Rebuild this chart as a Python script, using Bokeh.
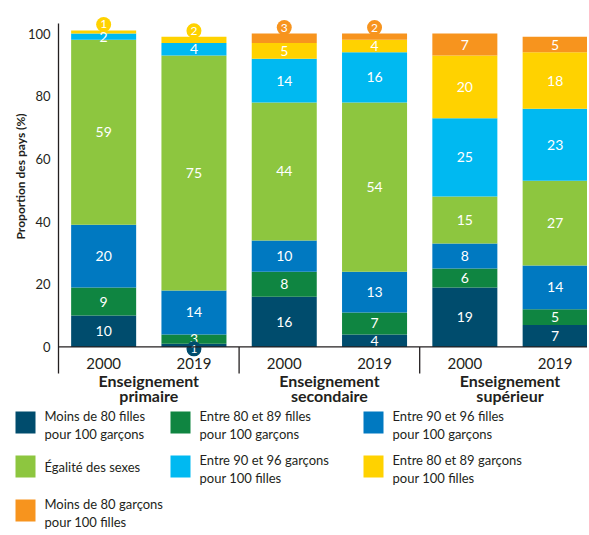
import math
from bokeh.plotting import figure
from bokeh.layouts import column
from bokeh.models import Range1d
from bokeh.core.properties import value
from bokeh.embed import file_html
from bokeh.resources import INLINE

# ---- data ----
groups = ["Enseignement\nprimaire", "Enseignement\nsecondaire", "Enseignement\nsupérieur"]
years = ["2000", "2019"]
y_ticks = [0, 20, 40, 60, 80, 100]
y_title = "Proportion des pays (%)"
series_names = [
    "Moins de 80 filles\npour 100 garçons",
    "Entre 80 et 89 filles\npour 100 garçons",
    "Entre 90 et 96 filles\npour 100 garçons",
    "Égalité des sexes",
    "Entre 90 et 96 garçons\npour 100 filles",
    "Entre 80 et 89 garçons\npour 100 filles",
    "Moins de 80 garçons\npour 100 filles",
]
colors = ["#004c6d", "#0f8541", "#0079c1", "#8dc63f", "#00b9f1", "#ffd200", "#f7941e"]
moins80_filles = [10, 1, 16, 4, 19, 7]
f80_89 = [9, 3, 8, 7, 6, 5]
f90_96 = [20, 14, 10, 13, 8, 14]
egalite = [59, 75, 44, 54, 15, 27]
g90_96 = [2, 4, 14, 16, 25, 23]
g80_89 = [1, 2, 5, 4, 20, 18]
moins80_garcons = [0, 0, 3, 2, 7, 5]
series = [moins80_filles, f80_89, f90_96, egalite, g90_96, g80_89, moins80_garcons]
# values shown in a small circle instead of inside the bar: (bar index, series index)
callouts = [(0, 5), (1, 5), (1, 0), (2, 6), (3, 6)]

FONT = "Lato"
TXT = "#231f20"

nbars = len(groups) * len(years)
xs = [i + 0.5 for i in range(nbars)]
year_labels = [years[i % len(years)] for i in range(nbars)]

W = 587
PXU = 90.3          # pixels per bar slot
LEFT_PX = 58        # room for the y-axis texts
X0 = -LEFT_PX / PXU
X1 = (W - LEFT_PX) / PXU

p = figure(width=W, height=406,
           x_range=Range1d(X0, X1), y_range=Range1d(-19.0, 108.0),
           output_backend="svg", toolbar_location=None,
           x_axis_location=None, y_axis_location=None,
           min_border_left=0, min_border_right=0, min_border_top=8, min_border_bottom=0)
p.outline_line_color = None
p.xgrid.visible = False
p.ygrid.visible = False

# stacked bars
bottoms = [0] * nbars
seg_x, seg_y, seg_t = [], [], []
call_x, call_y, call_t, call_c = [], [], [], []
for si, vals in enumerate(series):
    tops = [b + v for b, v in zip(bottoms, vals)]
    p.vbar(x=xs, bottom=bottoms, top=tops, width=0.72,
           fill_color=colors[si], line_color=None)
    for bi in range(nbars):
        if vals[bi] == 0 or (bi, si) in callouts:
            continue
        seg_x.append(xs[bi])
        seg_y.append((bottoms[bi] + tops[bi]) / 2)
        seg_t.append(str(vals[bi]))
    bottoms = tops
tops_all = bottoms

for bi, si in callouts:
    call_x.append(xs[bi])
    call_y.append(-0.6 if si == 0 else tops_all[bi] + 1.9)
    call_t.append(str(series[si][bi]))
    call_c.append(colors[si])

p.text(x=seg_x, y=seg_y, text=seg_t, text_align="center", text_baseline="middle",
       text_color="white", text_font=value(FONT), text_font_size="14px")

p.scatter(x=call_x, y=call_y, marker="circle", size=15, fill_color=call_c, line_color=None)
p.text(x=call_x, y=call_y, text=call_t, text_align="center", text_baseline="middle",
       text_color="white", text_font=value(FONT), text_font_size="12px")

# y axis: line, tick labels, title
p.segment(x0=[0], y0=[-8.5], x1=[0], y1=[103.2], line_color=TXT, line_width=1.3)
p.text(x=[-8 / PXU] * len(y_ticks), y=y_ticks, text=[str(t) for t in y_ticks],
       text_align="right", text_baseline="middle", text_color=TXT,
       text_font=value(FONT), text_font_size="13px")
p.text(x=[-38 / PXU], y=[54.4], text=[y_title], angle=math.pi / 2,
       text_align="center", text_baseline="middle", text_color=TXT,
       text_font=value(FONT), text_font_size="12px", text_font_style="bold")

# baseline and group separators
p.segment(x0=[0], y0=[0], x1=[X1], y1=[0], line_color=TXT, line_width=1.3)
sep_x = [len(years) * g for g in range(1, len(groups))]
p.segment(x0=sep_x, y0=[0] * len(sep_x), x1=sep_x, y1=[-8.5] * len(sep_x),
          line_color=TXT, line_width=1.3)

# year labels
p.text(x=xs, y=[-5.2] * nbars, text=year_labels, text_align="center", text_baseline="middle",
       text_color=TXT, text_font=value(FONT), text_font_size="15px")

# group labels (two lines)
gx = [len(years) * g + len(years) / 2 for g in range(len(groups))]
line1 = [g.split("\n")[0] for g in groups]
line2 = [g.split("\n")[1] for g in groups]
p.text(x=gx, y=[-10.7] * len(gx), text=line1, text_align="center", text_baseline="middle",
       text_color=TXT, text_font=value(FONT), text_font_size="16px", text_font_style="bold")
p.text(x=gx, y=[-15.5] * len(gx), text=line2, text_align="center", text_baseline="middle",
       text_color=TXT, text_font=value(FONT), text_font_size="16px", text_font_style="bold")

# ---- legend strip (pixel coordinates, y downwards) ----
LH = 125
pl = figure(width=W, height=LH, x_range=Range1d(0, W), y_range=Range1d(LH, 0),
            output_backend="svg", toolbar_location=None,
            x_axis_location=None, y_axis_location=None,
            min_border_left=0, min_border_right=0, min_border_top=0, min_border_bottom=0)
pl.outline_line_color = None
pl.xgrid.visible = False
pl.ygrid.visible = False

col_left = [15, 170, 363]
row_top0, row_pitch = 5, 44
sw_w, sw_h, gap = 20, 22, 9
sq_x, sq_y = [], []
t1_x, t1_y, t1 = [], [], []
t2_x, t2_y, t2 = [], [], []
for i, name in enumerate(series_names):
    cx = col_left[i % 3]
    top = row_top0 + (i // 3) * row_pitch
    sq_x.append(cx + sw_w / 2)
    sq_y.append(top + sw_h / 2)
    parts = name.split("\n")
    if len(parts) == 1:
        t1_x.append(cx + sw_w + gap); t1_y.append(top + sw_h / 2); t1.append(parts[0])
    else:
        t1_x.append(cx + sw_w + gap); t1_y.append(top + 4); t1.append(parts[0])
        t2_x.append(cx + sw_w + gap); t2_y.append(top + 22); t2.append(parts[1])

pl.rect(x=sq_x, y=sq_y, width=sw_w, height=sw_h, fill_color=colors, line_color=None)
pl.text(x=t1_x, y=t1_y, text=t1, text_align="left", text_baseline="middle",
        text_color=TXT, text_font=value(FONT), text_font_size="13px")
pl.text(x=t2_x, y=t2_y, text=t2, text_align="left", text_baseline="middle",
        text_color=TXT, text_font=value(FONT), text_font_size="13px")

open("out.html", "w").write(file_html(column(p, pl, spacing=0), INLINE))
